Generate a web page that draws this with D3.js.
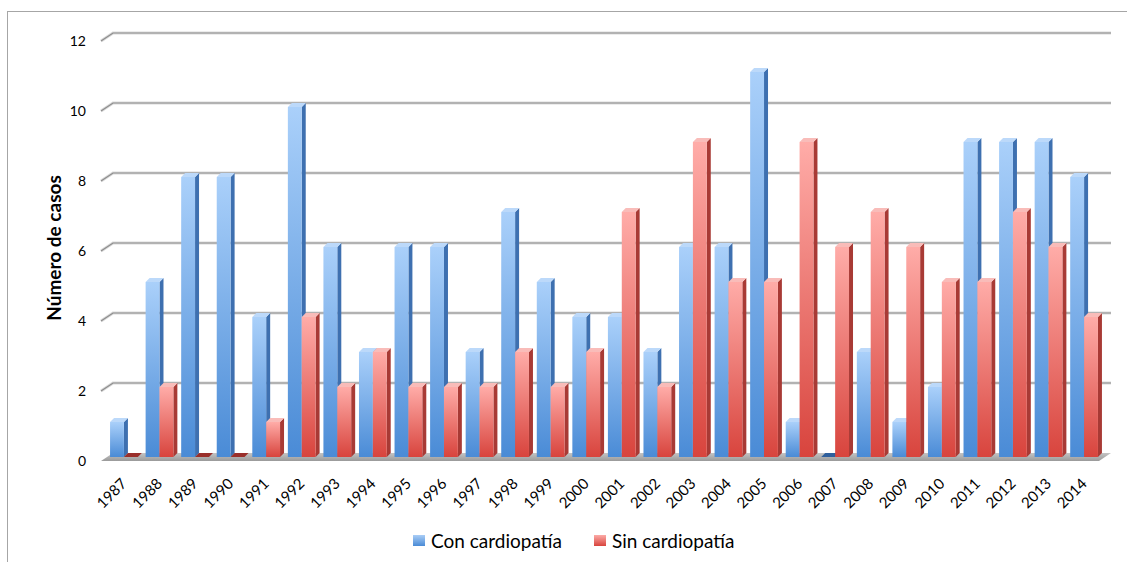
<!DOCTYPE html>
<html>
<head>
<meta charset="utf-8">
<script src="https://cdn.jsdelivr.net/npm/d3@7"></script>
<style>
  body { margin: 0; background: #fff; }
  text { font-family: Lato, "Open Sans", sans-serif; fill: #000; }
</style>
</head>
<body>
<div id="chart"></div>
<script>
// data
var years = ["1987","1988","1989","1990","1991","1992","1993","1994","1995","1996","1997","1998","1999","2000",
             "2001","2002","2003","2004","2005","2006","2007","2008","2009","2010","2011","2012","2013","2014"];
var conCardiopatia = [1,5,8,8,4,10,6,3,6,6,3,7,5,4,4,3,6,6,11,1,0,3,1,2,9,9,9,8];
var sinCardiopatia = [0,2,0,0,1,4,2,3,2,2,2,3,2,3,7,2,9,5,5,9,6,7,6,5,5,7,6,4];
var seriesNames = ["Con cardiopatía", "Sin cardiopatía"];
var yTicks = [0,2,4,6,8,10,12];

var width = 1127, height = 562;

var svg = d3.select("#chart").append("svg")
  .attr("width", width)
  .attr("height", height);

// gradients for bars
var defs = svg.append("defs");
var grads = [
  {id: "gBlue", top: "#aad0fa", bottom: "#4a8bd6"},
  {id: "gRed", top: "#ffaca8", bottom: "#d8443d"},
  {id: "lBlue", top: "#a9cdf6", bottom: "#4a8bd6"},
  {id: "lRed", top: "#fcaba7", bottom: "#d8443d"}
];
grads.forEach(function(g) {
  var lg = defs.append("linearGradient").attr("id", g.id)
    .attr("x1", 0).attr("y1", 0).attr("x2", 0).attr("y2", 1);
  lg.append("stop").attr("offset", "0%").attr("stop-color", g.top);
  lg.append("stop").attr("offset", "100%").attr("stop-color", g.bottom);
});
var floorGrad = defs.append("linearGradient").attr("id", "gFloor")
  .attr("x1", 0).attr("y1", 0).attr("x2", 0).attr("y2", 1);
floorGrad.append("stop").attr("offset", "0%").attr("stop-color", "#c4c4c4");
floorGrad.append("stop").attr("offset", "100%").attr("stop-color", "#9a9a9a");

// outer frame
svg.append("rect")
  .attr("x", 7.5).attr("y", 11.5)
  .attr("width", 1300).attr("height", 700)
  .attr("fill", "none").attr("stroke", "#a6a6a6");

// 3d offsets
var wall = {dx: 12, dy: -8};   // back wall relative to front
var mid = {dx: 6, dy: -4};     // bars relative to front
var side = {dx: 4, dy: -4};    // bar depth

// scales (front plane)
var frontLeft = 101, frontRight = 1099;
var y = d3.scaleLinear().domain([0, 12]).range([461, 41]);
var x = d3.scaleBand().domain(years).range([100.5, 1095.5])
  .paddingInner(0.22).paddingOuter(0.1);
var xs = d3.scaleBand().domain(seriesNames).range([0, x.bandwidth()]);

// back wall gridlines
var grid = svg.append("g");
yTicks.filter(function(t) { return t > 0; }).forEach(function(t) {
  var yy = y(t);
  var d = "M" + frontLeft + "," + yy + "L" + (frontLeft + wall.dx) + "," + (yy + wall.dy) +
          "L" + (frontRight + wall.dx) + "," + (yy + wall.dy);
  grid.append("path").attr("d", d)
    .attr("fill", "none").attr("stroke", "#d9d9d9").attr("stroke-width", 3);
  grid.append("path").attr("d", d)
    .attr("fill", "none").attr("stroke", "#8c8c8c").attr("stroke-width", 1.2);
});

// floor
var y0 = y(0);
svg.append("path")
  .attr("d", "M" + frontLeft + "," + y0 + "L" + (frontLeft + wall.dx) + "," + (y0 + wall.dy) +
             "L" + (frontRight + wall.dx) + "," + (y0 + wall.dy) + "L" + frontRight + "," + y0 + "Z")
  .attr("fill", "url(#gFloor)");

// y axis labels
svg.append("g").selectAll("text")
  .data(yTicks)
  .enter()
  .append("text")
  .attr("x", 86)
  .attr("y", function(d) { return y(d); })
  .attr("dy", "0.35em")
  .attr("text-anchor", "end")
  .style("font-size", "14px")
  .text(function(d) { return d; });

// y axis title
svg.append("text")
  .attr("transform", "translate(61,248)rotate(-90)")
  .attr("text-anchor", "middle")
  .style("font-size", "19px")
  .style("font-weight", "bold")
  .text("Número de casos");

// bars
var data = [];
years.forEach(function(yr, i) {
  data.push({year: yr, s: seriesNames[0], v: conCardiopatia[i], face: "url(#gBlue)", side: "#3e70b0", top: "#bcd9fa", zero: "#2f5f9c"});
  data.push({year: yr, s: seriesNames[1], v: sinCardiopatia[i], face: "url(#gRed)", side: "#a83a35", top: "#f9bcb9", zero: "#9a2f2b"});
});

var bw = xs.bandwidth();
var bars = svg.append("g").selectAll("g")
  .data(data)
  .enter()
  .append("g")
  .attr("transform", function(d) { return "translate(" + (x(d.year) + xs(d.s) + mid.dx) + "," + mid.dy + ")"; });

// side face
bars.filter(function(d) { return d.v > 0; })
  .append("path")
  .attr("d", function(d) {
    var t = y(d.v), b = y(0);
    return "M" + bw + "," + t + "L" + (bw + side.dx) + "," + (t + side.dy) +
           "L" + (bw + side.dx) + "," + (b + side.dy) + "L" + bw + "," + b + "Z";
  })
  .attr("fill", function(d) { return d.side; });

// top face
bars.append("path")
  .attr("d", function(d) {
    var t = y(d.v);
    return "M0," + t + "L" + side.dx + "," + (t + side.dy) +
           "L" + (bw + side.dx) + "," + (t + side.dy) + "L" + bw + "," + t + "Z";
  })
  .attr("fill", function(d) { return d.v > 0 ? d.top : d.zero; });

// front face
bars.filter(function(d) { return d.v > 0; })
  .append("rect")
  .attr("x", 0)
  .attr("y", function(d) { return y(d.v); })
  .attr("width", bw)
  .attr("height", function(d) { return y(0) - y(d.v); })
  .attr("fill", function(d) { return d.face; });

// x labels
svg.append("g").selectAll("text")
  .data(years)
  .enter()
  .append("text")
  .attr("transform", function(d) {
    return "translate(" + (x(d) + x.bandwidth() / 2 + 6) + ",481)rotate(-45)";
  })
  .attr("text-anchor", "end")
  .attr("dy", "0.35em")
  .style("font-size", "15px")
  .text(function(d) { return d; });

// legend
var legend = svg.append("g");
var legendX = [413, 594];
seriesNames.forEach(function(name, i) {
  legend.append("rect")
    .attr("x", legendX[i]).attr("y", 535)
    .attr("width", 12).attr("height", 11)
    .attr("fill", i === 0 ? "url(#lBlue)" : "url(#lRed)");
  legend.append("text")
    .attr("x", legendX[i] + 18).attr("y", 541)
    .attr("dy", "0.35em")
    .style("font-size", "19px")
    .text(name);
});
</script>
</body>
</html>
